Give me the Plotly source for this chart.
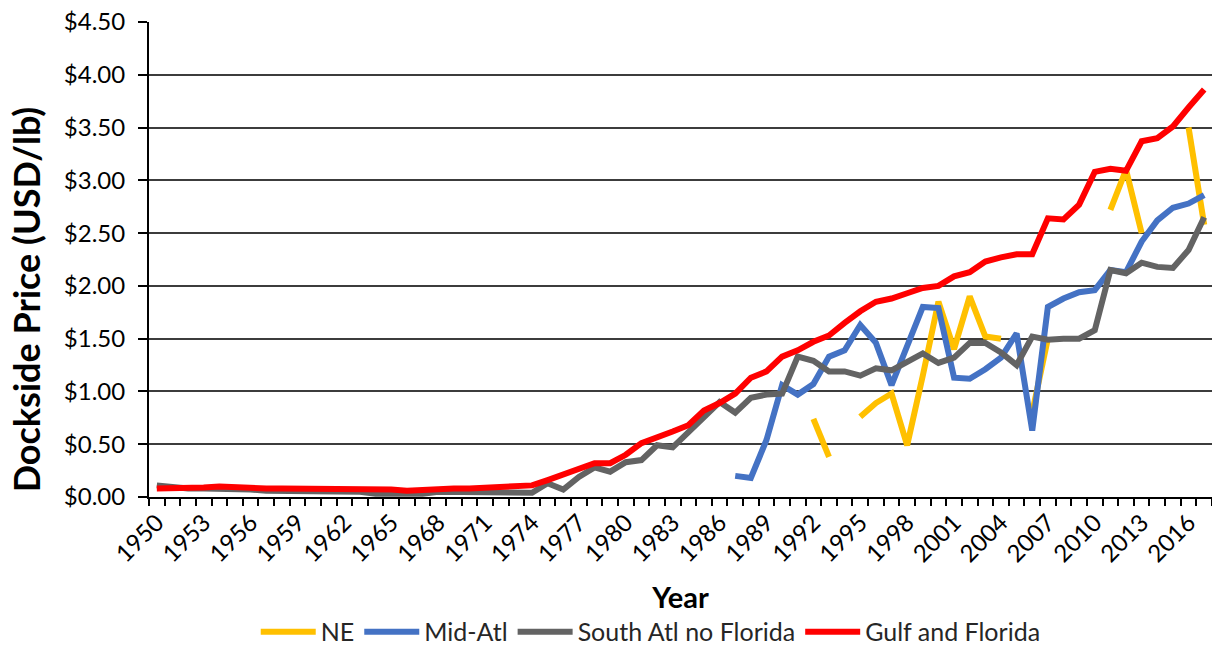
import plotly.graph_objects as go

years = list(range(1950, 2018))

# Dockside price, USD per lb, one value per year 1950-2017 (None = no landing reported)
ne = [None] * 42 + [
    0.74, 0.38, None, 0.76, 0.89, 0.98, 0.49, 1.15,   # 1992-1999
    1.85, 1.40, 1.90, 1.52, 1.50, None, 0.80, 1.50,   # 2000-2007
    None, None, None, 2.72, 3.10, 2.50, None, None,   # 2008-2015
    3.50, 2.58,                                       # 2016-2017
]

mid_atl = [None] * 37 + [
    0.20, 0.18, 0.54,                                 # 1987-1989
    1.06, 0.97, 1.07, 1.33, 1.39, 1.63, 1.46, 1.06, 1.42, 1.80,   # 1990-1999
    1.79, 1.13, 1.12, 1.21, 1.32, 1.55, 0.63, 1.80, 1.88, 1.94,   # 2000-2009
    1.96, 2.15, 2.13, 2.42, 2.62, 2.74, 2.78, 2.86,               # 2010-2017
]

south_atl = [
    0.11, 0.09, 0.08, 0.08, 0.08, 0.07, 0.07, 0.06, 0.06, 0.06,   # 1950s
    0.06, 0.06, 0.05, 0.05, 0.03, 0.03, 0.02, 0.03, 0.05, 0.05,   # 1960s
    0.05, 0.05, 0.05, 0.04, 0.04, 0.13, 0.07, 0.19, 0.28, 0.24,   # 1970s
    0.33, 0.35, 0.49, 0.47, 0.61, 0.76, 0.90, 0.80, 0.94, 0.97,   # 1980s
    0.98, 1.33, 1.29, 1.19, 1.19, 1.15, 1.22, 1.20, 1.28, 1.36,   # 1990s
    1.27, 1.32, 1.46, 1.46, 1.37, 1.25, 1.52, 1.49, 1.50, 1.50,   # 2000s
    1.58, 2.15, 2.12, 2.22, 2.18, 2.17, 2.34, 2.65,               # 2010-2017
]

gulf_fl = [
    0.08, 0.08, 0.09, 0.09, 0.10, 0.09, 0.09, 0.08, 0.08, 0.08,   # 1950s
    0.07, 0.07, 0.07, 0.08, 0.07, 0.07, 0.06, 0.07, 0.08, 0.08,   # 1960s
    0.08, 0.09, 0.09, 0.10, 0.11, 0.16, 0.21, 0.26, 0.32, 0.32,   # 1970s
    0.40, 0.51, 0.56, 0.62, 0.68, 0.82, 0.89, 0.98, 1.13, 1.19,   # 1980s
    1.33, 1.39, 1.47, 1.53, 1.65, 1.76, 1.85, 1.88, 1.93, 1.98,   # 1990s
    2.00, 2.09, 2.13, 2.23, 2.27, 2.30, 2.30, 2.64, 2.63, 2.77,   # 2000s
    3.08, 3.11, 3.09, 3.37, 3.40, 3.51, 3.69, 3.86,               # 2010-2017
]

series = [
    ("NE", ne, "#FFC000"),
    ("Mid-Atl", mid_atl, "#4472C4"),
    ("South Atl no Florida", south_atl, "#636363"),
    ("Gulf and Florida", gulf_fl, "#FF0000"),
]

label_years = list(range(1950, 2018, 3))

fig = go.Figure()
for name, vals, color in series:
    fig.add_trace(go.Scatter(
        x=years, y=vals, name=name, mode="lines",
        line=dict(color=color, width=6),
        connectgaps=False,
    ))

font_family = "Lato, 'Open Sans', sans-serif"

fig.update_layout(
    width=1212, height=646,
    margin=dict(l=149, r=0, t=22, b=149, autoexpand=False),
    paper_bgcolor="white", plot_bgcolor="white",
    font=dict(family=font_family, color="black"),
    showlegend=True,
    legend=dict(
        orientation="h", x=0.472, xanchor="center", y=-0.284, yanchor="middle",
        font=dict(size=25, color="#262626"), itemwidth=55, traceorder="normal",
    ),
    annotations=[dict(
        text="<b>Dockside Price (USD/lb)</b>", textangle=-90,
        xref="paper", yref="paper", x=-0.116, y=0.005, xanchor="center", yanchor="bottom",
        showarrow=False, font=dict(size=36, color="black"),
    )],
)

fig.update_xaxes(
    range=[1949.5, 2017.5], automargin=False,
    tickmode="array", tickvals=label_years, ticktext=[str(y) for y in label_years],
    tickangle=-45, tickfont=dict(size=24),
    ticks="", showgrid=False, zeroline=False,
    showline=True, linecolor="black", linewidth=2,
    minor=dict(tickmode="linear", tick0=1949.5, dtick=1, ticks="outside",
               ticklen=7, tickwidth=2, tickcolor="black", showgrid=False),
    title=dict(text="<b>Year</b>", font=dict(size=29), standoff=22),
)

fig.update_yaxes(
    range=[0, 4.5], dtick=0.5, tick0=0, automargin=False,
    tickprefix="$", tickformat=".2f", tickfont=dict(size=24),
    ticks="outside", ticklen=9, tickwidth=2, tickcolor="black",
    ticklabelstandoff=8,
    showgrid=True, gridcolor="#3c3c3c", gridwidth=1.5,
    zeroline=False, showline=True, linecolor="black", linewidth=2,
)

fig.write_html("out.html")
